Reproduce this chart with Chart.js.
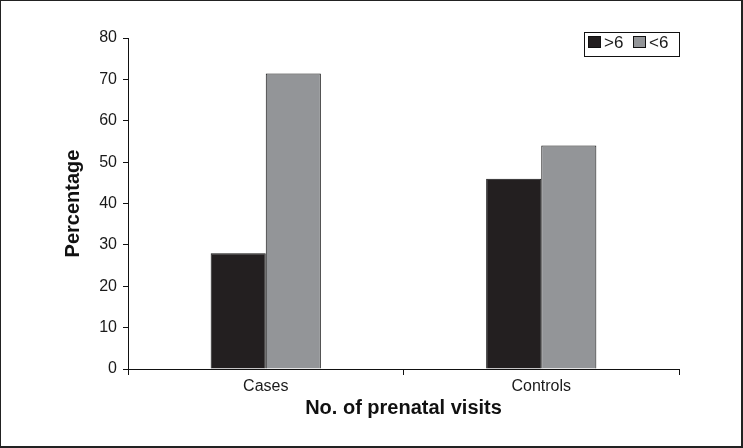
<!DOCTYPE html>
<html>
<head>
<meta charset="utf-8">
<script src="https://cdn.jsdelivr.net/npm/chart.js@4/dist/chart.umd.min.js"></script>
<style>
  html, body { margin: 0; padding: 0; background: #fff; }
  #wrap {
    width: 743px; height: 448px; box-sizing: border-box;
    border: 1px solid #222; border-right-width: 2px; border-bottom-width: 2px;
    position: relative;
  }
  #chart { position: absolute; left: -1px; top: -1px; }
</style>
</head>
<body>
<div id="wrap"><canvas id="chart" width="743" height="448"></canvas></div>
<script>
const categories = ['Cases', 'Controls'];
const seriesNames = ['>6', '<6'];
const moreThanSix = [28, 46];
const lessThanSix = [71.4, 54];
const yTicks = [0, 10, 20, 30, 40, 50, 60, 70, 80];

const darkColor = '#231f20';
const greyColor = '#939598';
const textColor = '#1a1a1a';
const fontFamily = '"Liberation Sans", Arial, sans-serif';

// legend box drawn inside the plot area, top right
const boxLegend = {
    id: 'boxLegend',
    afterDraw(chart) {
        const ctx = chart.ctx;
        const x = 584.5, y = 32.5, w = 95, h = 24;
        ctx.save();
        ctx.strokeStyle = '#111';
        ctx.lineWidth = 1;
        ctx.strokeRect(x, y, w, h);
        ctx.font = '17px ' + fontFamily;
        ctx.textBaseline = 'middle';
        let cx = 588;
        chart.data.datasets.forEach(ds => {
            ctx.fillStyle = ds.backgroundColor;
            ctx.fillRect(cx, 36, 13, 12);
            ctx.strokeStyle = '#111';
            ctx.strokeRect(cx + 0.5, 36.5, 12, 11);
            ctx.fillStyle = textColor;
            ctx.fillText(ds.label, cx + 16, 43);
            cx += 45;
        });
        ctx.restore();
    }
};

const ctx = document.getElementById('chart').getContext('2d');
new Chart(ctx, {
    type: 'bar',
    data: {
        labels: categories,
        datasets: [
            {
                label: seriesNames[0],
                data: moreThanSix,
                backgroundColor: darkColor,
                borderColor: '#111',
                borderWidth: 1,
                categoryPercentage: 0.4,
                barPercentage: 1
            },
            {
                label: seriesNames[1],
                data: lessThanSix,
                backgroundColor: greyColor,
                borderColor: '#111',
                borderWidth: 1,
                categoryPercentage: 0.4,
                barPercentage: 1
            }
        ]
    },
    options: {
        responsive: false,
        animation: false,
        layout: {
            padding: { left: 61, right: 64, top: 38, bottom: 28 }
        },
        plugins: {
            legend: { display: false },
            tooltip: { enabled: false }
        },
        scales: {
            x: {
                grid: {
                    offset: true,
                    drawOnChartArea: false,
                    drawTicks: true,
                    tickLength: 6,
                    color: '#111'
                },
                border: { display: true, color: '#111', width: 1 },
                ticks: {
                    color: textColor,
                    padding: 2,
                    font: { family: fontFamily, size: 16 }
                },
                title: {
                    display: true,
                    text: 'No. of prenatal visits',
                    color: '#111',
                    padding: 0,
                    font: { family: fontFamily, size: 20, weight: 'bold' }
                },
                afterFit(scale) { scale.height = 51; }
            },
            y: {
                min: 0,
                max: 80,
                afterBuildTicks(scale) {
                    scale.ticks = yTicks.map(v => ({ value: v }));
                },
                grid: {
                    drawOnChartArea: false,
                    drawTicks: true,
                    tickLength: 5,
                    color: '#111'
                },
                border: { display: true, color: '#111', width: 1 },
                ticks: {
                    color: textColor,
                    padding: 6,
                    font: { family: fontFamily, size: 16 }
                },
                title: {
                    display: true,
                    text: 'Percentage',
                    color: '#111',
                    padding: 0,
                    font: { family: fontFamily, size: 20, weight: 'bold' }
                },
                afterFit(scale) { scale.width = 67; }
            }
        }
    },
    plugins: [boxLegend]
});
</script>
</body>
</html>
